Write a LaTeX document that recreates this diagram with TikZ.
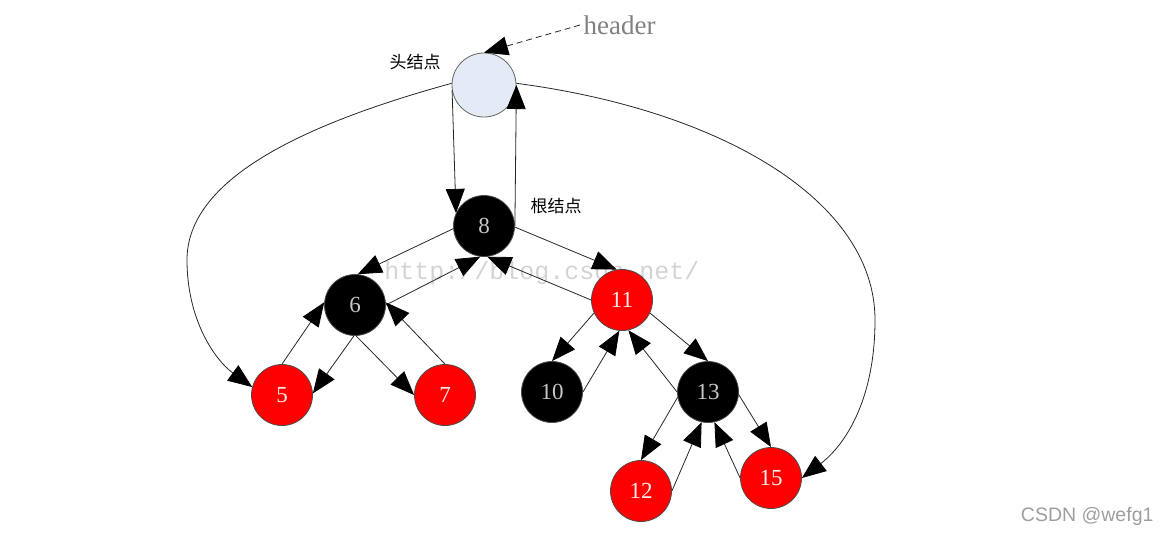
\documentclass[tikz,border=0pt]{standalone}
\usepackage{fontspec}
\setmainfont{Liberation Serif}
\newfontfamily\cjkfont{Noto Sans CJK SC}
\newfontfamily\wmfont{Liberation Mono}
\newfontfamily\marksans{Liberation Sans}
\usetikzlibrary{arrows.meta}
\definecolor{headblue}{HTML}{E4EBF6}
\tikzset{
    rbnode/.style={circle, draw=black!70, line width=0.8pt, minimum size=61pt,
    inner sep=0pt, font=\fontsize{23}{23}\selectfont},
    blacknode/.style={rbnode, fill=black, text=black!22},
    rednode/.style={rbnode, fill=red, text=red!8},
    headnode/.style={rbnode, minimum size=64pt, fill=headblue, draw=black!60},
    link/.style={-{Triangle[length=24pt,width=19pt,color=black]}, draw=black!85, line width=0.8pt},
    tag/.style={font=\cjkfont\fontsize{17}{17}\selectfont},
}

\begin{document}
\begin{tikzpicture}[x=1pt, y=-1pt]
            \useasboundingbox (0,0) rectangle (1163,536);
            % --- watermarks ---
            \node[font=\wmfont\fontsize{25}{25}\selectfont, text=black!17] (wm) at (542,273) {http://blog.csdn.net/};
            \node[font=\marksans\fontsize{19.5}{19.5}\selectfont, text=black!38, anchor=east] (mark) at (1157,516) {CSDN @wefg1};
            % --- header ---
            \node[headnode] (head) at (484,85) {};
            \node[font=\fontsize{27}{27}\selectfont, text=black!50, anchor=west] (hdr) at (580,25) {header};
            \node[tag] (headtag) at (415,62) {头结点};
            \draw[link, dash pattern=on 6pt off 4pt] (hdr.west) -- (head.north);
            % --- tree nodes ---
            \node[blacknode] (n8) at (484,226) {8};
            \node[tag] (roottag) at (556,206) {根结点};
            \node[blacknode] (n6) at (355,305) {6};
            \node[rednode] (n11) at (622,300) {11};
            \node[rednode] (n5) at (282,395) {5};
            \node[rednode] (n7) at (445,395) {7};
            \node[blacknode] (n10) at (552,392) {10};
            \node[blacknode] (n13) at (708,392) {13};
            \node[rednode] (n12) at (641,491) {12};
            \node[rednode] (n15) at (771,478) {15};
            % --- header links ---
            \draw[link] (head.190) -- (n8.155);
            \draw[link] (n8.east) -- (head.east);
            \draw[link] (head.177) .. controls (300,125) and (187,180) .. (187,260)
                .. controls (187,320) and (215,360) .. (n5.165);
            \draw[link] (head.3) .. controls (720,110) and (875,200) .. (875,320)
                .. controls (875,400) and (845,445) .. (n15.east);
            % --- parent and child links ---
            \draw[link] (n8.185) -- (n6.85);
            \draw[link] (n6.east) -- (n8.263);
            \draw[link] (n8.358) -- (n11.100);
            \draw[link] (n11.west) -- (n8.276);
            \draw[link] (n6.268) -- (n5.3);
            \draw[link] (n5.north) -- (n6.175);
            \draw[link] (n6.272) -- (n7.west);
            \draw[link] (n7.north) -- (n6.5);
            \draw[link] (n11.205) -- (n10.north);
            \draw[link] (n10.east) -- (n11.265);
            \draw[link] (n11.335) -- (n13.north);
            \draw[link] (n13.west) -- (n11.282);
            \draw[link] (n13.190) -- (n12.north);
            \draw[link] (n12.east) -- (n13.258);
            \draw[link] (n13.355) -- (n15.north);
            \draw[link] (n15.west) -- (n13.282);
        \end{tikzpicture}
\end{document}
